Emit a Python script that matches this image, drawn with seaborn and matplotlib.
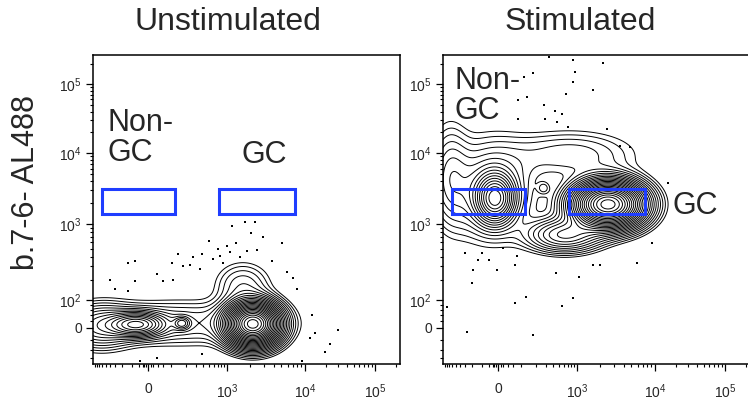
import numpy as np
import matplotlib
matplotlib.use("Agg")
import matplotlib.pyplot as plt
from matplotlib.patches import Rectangle
import seaborn as sns

# ---- data (fluorescence values, biexponential axes) ----
panels = ["Unstimulated", "Stimulated"]
y_label = "b.7-6- AL488"

# density components: (x value, y value, x spread, y spread, peak weight)
# spreads are given in display units of the biex scale
pops_unstim = [
    (-64, 10, 16, 7, 0.7),      # Non-GC
    (168, 14, 5, 4, 0.25),      # small island
    (2150, 12, 15, 12, 3.0),    # GC
    (155, 15, 60, 14, 0.13),    # broad band
    (1600, 170, 17, 14, 0.12),  # upper bump
    (-680, 5, 20, 13, 0.25),    # left edge
]
pops_stim = [
    (-16, 2300, 11, 14, 0.9),   # Non-GC core
    (-40, 3000, 25, 28, 0.25),  # Non-GC wide
    (274, 3200, 4, 4, 0.08),    # small island
    (2500, 1900, 20, 13, 3.0),  # GC
    (620, 740, 22, 10, 0.4),    # lower tail
    (765, 9300, 40, 15, 0.12),  # upper ridge
    (-680, 4800, 12, 30, 0.15), # left edge
]

# outlier events
dots_unstim_x = [-77, -130, -390, -290, -77, -130, 35, 60, 110, 140, 105, 175, 237, 262,
                 383, 353, 500, 710, 765, 1000, 1090, 1300, 1160, 1700, 2290, 2030, 1800,
                 2420, 2890, 3800, 5070, 5870, 7000, 8000, 12600, 13900, 11800, 22700,
                 29600, 19300, 9100, 383, 35, -45, 586, 1470, 857]
dots_unstim_y = [352, 330, 199, 150, 195, 138, 240, 195, 200, 430, 335, 305, 315, 395,
                 431, 280, 625, 500, 410, 545, 460, 590, 950, 1080, 1080, 780, 470,
                 484, 700, 350, 590, 255, 215, 150, 41, -21, -42, -70,
                 -9, -112, -175, -125, -150, -175, 374, 395, 333]
dots_stim_x = [857, 2150, 340, 925, 175, 115, 857, 655, 1600, 134, 83, 274, 430, 563, 83,
               285, 465, 710, 2420, 3560, 4780, 15300, 9130, 5870, 1600, 1970, 1060, 447,
               69, -5, -51, -130, -183, -193, -293, -98, 128, 69, 563, 857, -800, -262,
               175, 19, 78]
dots_stim_y = [233000, 210000, 255000, 154000, 148000, 129000, 108000, 72000, 83000,
               65000, 59000, 50000, 41000, 37000, 31000, 31000, 28000, 24000, 22000,
               12500, 12100, 3780, 590, 333, 313, 313, 218, 247, 313, 270, 363, 363, 270,
               182, 444, 444, 112, 87, 75, 109, 70, -17, -29, 512, 408]

# gates (x range, y range)
gate_nongc = ((-620, 120), (1390, 3100))
gate_gc = ((740, 7400), (1390, 3100))

# ---- biexponential-like axis scale ----
C = 100.0
X_ANCH = [-1000, 0, 1e3, 1e4, 1e5, 1e6]
X_POS = [0, 55, 134, 212, 282, 352]
Y_ANCH = [-200, 0, 100, 1e3, 1e4, 1e5, 1e6]
Y_POS = [0, 36.3, 64, 139.7, 211.3, 279.7, 345.7]


def make_scale(anch, pos):
    a = np.arcsinh(np.asarray(anch, float) / C)
    p = np.asarray(pos, float)
    s0 = (p[1] - p[0]) / (a[1] - a[0])
    s1 = (p[-1] - p[-2]) / (a[-1] - a[-2])

    def fwd(v):
        t = np.arcsinh(np.asarray(v, float) / C)
        out = np.interp(t, a, p)
        out = np.where(t < a[0], p[0] + (t - a[0]) * s0, out)
        out = np.where(t > a[-1], p[-1] + (t - a[-1]) * s1, out)
        return out

    def inv(u):
        u = np.asarray(u, float)
        t = np.interp(u, p, a)
        t = np.where(u < p[0], a[0] + (u - p[0]) / s0, t)
        t = np.where(u > p[-1], a[-1] + (u - p[-1]) / s1, t)
        return C * np.sinh(t)

    return fwd, inv


fx, ix = make_scale(X_ANCH, X_POS)
fy, iy = make_scale(Y_ANCH, Y_POS)

sns.set_style("ticks")
plt.rcParams["font.family"] = ["Liberation Sans", "DejaVu Sans"]
plt.rcParams["mathtext.fontset"] = "custom"
plt.rcParams["mathtext.rm"] = "Liberation Sans"
plt.rcParams["mathtext.it"] = "Liberation Sans:italic"

fig = plt.figure(figsize=(7.48, 4.03), dpi=100)
W, H = 748, 403
ax_l = fig.add_axes([93 / W, 39 / H, 307 / W, 309 / H])
ax_r = fig.add_axes([443 / W, 39 / H, 307 / W, 309 / H])

xlim = (float(ix(0)), float(ix(307)))
ylim = (float(iy(0)), float(iy(309)))

major = [0, 1e3, 1e4, 1e5]
major_lab = ["0", r"$\mathregular{10^3}$", r"$\mathregular{10^4}$", r"$\mathregular{10^5}$"]
x_minor = ([-900, -800, -700, -600, -500, -400, -300, -200, -100, -50, -30, -20, -10,
            10, 20, 40, 60]
           + list(range(100, 1000, 100)) + list(range(2000, 10000, 1000))
           + list(range(20000, 100000, 10000)) + [200000])
y_major = [0, 1e2, 1e3, 1e4, 1e5]
y_major_lab = ["0", r"$\mathregular{10^2}$", r"$\mathregular{10^3}$",
               r"$\mathregular{10^4}$", r"$\mathregular{10^5}$"]
y_minor = ([-150, -100, -50, 20, 40, 60, 80] + list(range(200, 1000, 100))
           + list(range(2000, 10000, 1000)) + list(range(20000, 100000, 10000))
           + [200000])

for ax, title, pops, dx, dy in [
        (ax_l, panels[0], pops_unstim, dots_unstim_x, dots_unstim_y),
        (ax_r, panels[1], pops_stim, dots_stim_x, dots_stim_y)]:
    ax.set_xscale("function", functions=(fx, ix))
    ax.set_yscale("function", functions=(fy, iy))

    # density in display units of the scale
    gu = np.linspace(fx(xlim[0]) - 5, fx(xlim[1]) + 5, 500)
    gv = np.linspace(fy(ylim[0]) - 5, fy(ylim[1]) + 5, 500)
    U, V = np.meshgrid(gu, gv)
    Z = np.zeros_like(U)
    for xv, yv, sx, sy, w in pops:
        cx, cy = fx(xv), fy(yv)
        Z += w * np.exp(-0.5 * (((U - cx) / sx) ** 2 + ((V - cy) / sy) ** 2))
    # contour levels between linear and log spacing
    levels = Z.max() * np.linspace(0.011 ** (1 / 3), 0.94 ** (1 / 3), 25) ** 3
    ax.contour(ix(U), iy(V), Z, levels=levels, colors="black", linewidths=0.7)

    sns.scatterplot(x=dx, y=dy, ax=ax, color="black", s=2.5, marker="s",
                    linewidth=0, legend=False)

    for (x0, x1), (y0, y1) in [gate_nongc, gate_gc]:
        ax.add_patch(Rectangle((x0, y0), x1 - x0, y1 - y0, fill=False,
                               edgecolor="#1f3dff", linewidth=2.2, zorder=5))

    ax.set_xlim(xlim)
    ax.set_ylim(ylim)
    ax.set_xticks(major)
    ax.set_xticklabels(major_lab)
    ax.set_xticks(x_minor, minor=True)
    ax.set_yticks(y_major)
    ax.set_yticklabels(y_major_lab)
    ax.set_yticks(y_minor, minor=True)
    ax.tick_params(which="major", direction="out", length=5, width=0.9,
                   labelsize=10, color="black", pad=3)
    ax.tick_params(which="minor", direction="out", length=2.5, width=0.8,
                   color="black")
    ax.tick_params(axis="x", pad=8)
    for sp in ax.spines.values():
        sp.set_color("black")
        sp.set_linewidth(1.1)
    ax.set_xlabel("")
    ax.set_ylabel("")

fig.text(228 / W, 1 - 22 / H, panels[0], ha="center", va="center", fontsize=23)
fig.text(580 / W, 1 - 22 / H, panels[1], ha="center", va="center", fontsize=23)
fig.text(26 / W, 1 - 183 / H, y_label, rotation=90, ha="center", va="center",
         fontsize=22)

ax_l.text(0.046, 0.733, "Non-\nGC", transform=ax_l.transAxes, ha="left",
          va="center", fontsize=22, linespacing=1.0)
ax_l.text(0.557, 0.676, "GC", transform=ax_l.transAxes, ha="center",
          va="center", fontsize=22)
ax_r.text(0.039, 0.867, "Non-\nGC", transform=ax_r.transAxes, ha="left",
          va="center", fontsize=22, linespacing=1.0)
ax_r.text(0.821, 0.511, "GC", transform=ax_r.transAxes, ha="center",
          va="center", fontsize=22)

fig.savefig("out.png", dpi=100)
